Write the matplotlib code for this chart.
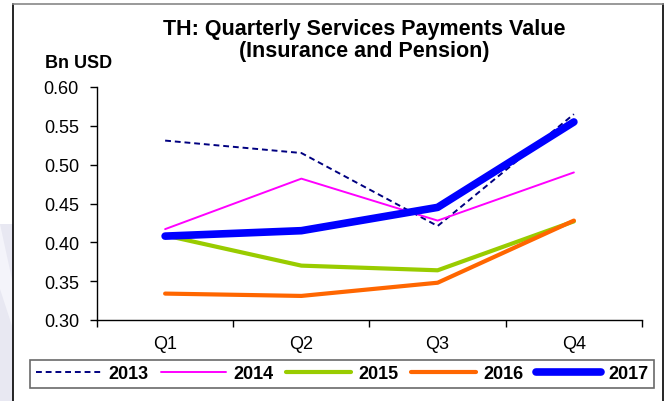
import matplotlib
matplotlib.use("Agg")
import matplotlib.pyplot as plt
from matplotlib.patches import Rectangle, Polygon
from matplotlib.lines import Line2D

plt.rcParams['font.family'] = ['Liberation Sans', 'DejaVu Sans']

quarters = ["Q1", "Q2", "Q3", "Q4"]
years = ["2013", "2014", "2015", "2016", "2017"]
v2013 = [0.531, 0.515, 0.421, 0.565]
v2014 = [0.417, 0.482, 0.428, 0.490]
v2015 = [0.409, 0.370, 0.364, 0.427]
v2016 = [0.334, 0.331, 0.348, 0.428]
v2017 = [0.408, 0.415, 0.445, 0.555]
y_ticks = [0.30, 0.35, 0.40, 0.45, 0.50, 0.55, 0.60]

series = [v2013, v2014, v2015, v2016, v2017]
styles = [
    dict(color="#000080", lw=1.4, ls=(0, (3, 2))),
    dict(color="#ff00ff", lw=1.4, ls="-"),
    dict(color="#99cc00", lw=3.0, ls="-"),
    dict(color="#ff6600", lw=3.0, ls="-"),
    dict(color="#0000ff", lw=5.5, ls="-"),
]

W, H = 669, 402
fig = plt.figure(figsize=(W / 100, H / 100), dpi=100)
fig.patch.set_facecolor("white")

# decorative backdrop at the left edge
fig.patches.append(Rectangle((0, 0), 13 / W, 1 - 225 / H, transform=fig.transFigure,
                             facecolor="#e8e8f2", edgecolor="none", zorder=0))
fig.patches.append(Polygon([(0, 1 - 225 / H), (13 / W, 1 - 285 / H), (13 / W, 1 - 330 / H), (0, 1 - 290 / H)],
                           closed=True, transform=fig.transFigure,
                           facecolor="#f4f4fa", edgecolor="none", zorder=0))
# chart frame
fig.lines.append(Line2D([13 / W, 13 / W], [0, 1 - 5 / H], transform=fig.transFigure, color="black", lw=1.2))
fig.lines.append(Line2D([663 / W, 663 / W], [0, 1 - 5 / H], transform=fig.transFigure, color="black", lw=1.2))
fig.lines.append(Line2D([13 / W, 663 / W], [1 - 5 / H, 1 - 5 / H], transform=fig.transFigure, color="#888888", lw=1.2))

ax = fig.add_axes([97 / W, 1 - 321 / H, (642 - 97) / W, (321 - 88) / H])
x = list(range(len(quarters)))
handles = []
for vals, st, yr in zip(series, styles, years):
    ln, = ax.plot(x, vals, color=st["color"], lw=st["lw"], ls=st["ls"],
                  solid_capstyle="round", dash_capstyle="butt", label=yr)
    handles.append(ln)

ax.set_xlim(-0.5, 3.5)
ax.set_ylim(0.30, 0.60)
ax.set_yticks(y_ticks)
ax.set_yticklabels([f"{t:.2f}" for t in y_ticks], fontsize=13)
ax.set_xticks([-0.5, 0.5, 1.5, 2.5, 3.5])
ax.set_xticklabels([])
ax.set_xticks(x, minor=True)
ax.set_xticklabels(quarters, minor=True, fontsize=13)
ax.tick_params(axis="x", which="major", direction="out", length=5, width=1)
ax.tick_params(axis="x", which="minor", length=0, pad=11)
ax.tick_params(axis="y", direction="out", length=5, width=1, pad=8)
for s in ("top", "right"):
    ax.spines[s].set_visible(False)
for s in ("left", "bottom"):
    ax.spines[s].set_linewidth(1)

fig.text(364 / W, 1 - 30 / H, "TH: Quarterly Services Payments Value", ha="center", va="center",
         fontsize=15.5, fontweight="bold")
fig.text(364 / W, 1 - 52 / H, "(Insurance and Pension)", ha="center", va="center",
         fontsize=15.5, fontweight="bold")
fig.text(45 / W, 1 - 64 / H, "Bn USD", ha="left", va="center", fontsize=13, fontweight="bold")

leg = fig.legend(handles=handles, loc="center", bbox_to_anchor=(342 / W, 1 - 375 / H),
                 ncol=5, frameon=True, fancybox=False, prop=dict(size=13, weight="bold"),
                 handlelength=3.6, handletextpad=0.4, columnspacing=0.7,
                 borderpad=0.3, borderaxespad=0)
leg.get_frame().set_edgecolor("#444444")
leg.get_frame().set_linewidth(1.2)

fig.savefig("out.png", dpi=100)
